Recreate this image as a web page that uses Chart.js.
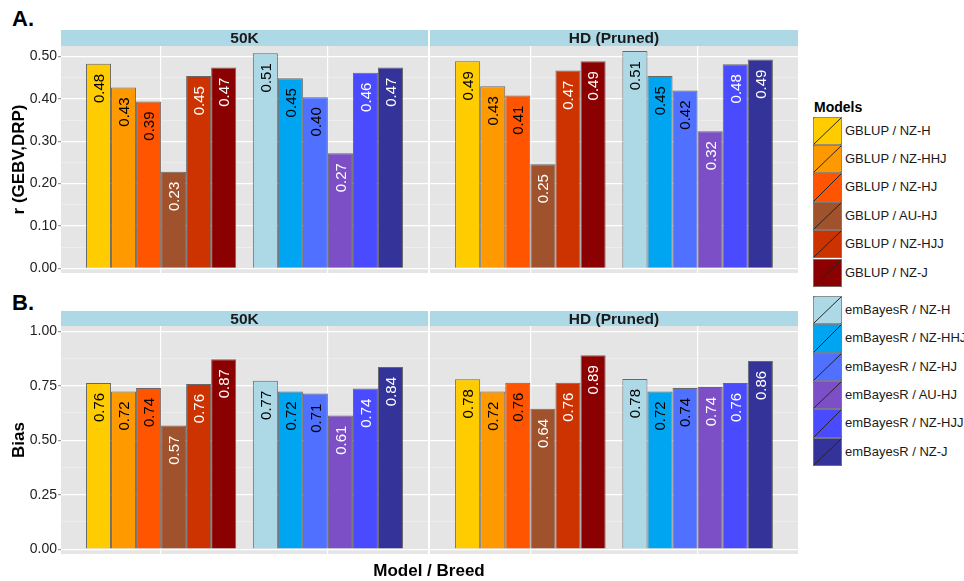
<!DOCTYPE html>
<html>
<head>
<meta charset="utf-8">
<script src="https://cdn.jsdelivr.net/npm/chart.js@4"></script>
<style>
  body { margin: 0; background: #fff; font-family: "Liberation Sans", Arial, sans-serif; }
  #page { position: relative; width: 964px; height: 581px; overflow: hidden; }
  canvas, .strip, .txt, .key, .keylab { position: absolute; }
  .strip { background: #ADD8E6; color: #1a1a1a; font-weight: bold; font-size: 15.5px; text-align: center; }
  .txt { color: #000; font-weight: bold; white-space: nowrap; }
  .key { box-sizing: border-box; border: 1px solid rgba(128,128,128,0.8); }
  .keylab { font-size: 13px; color: #1a1a1a; white-space: nowrap; }
</style>
</head>
<body>
<div id="page">
  <div class="txt" style="left:12px;top:8px;font-size:22px;line-height:22px;">A.</div>
  <div class="txt" style="left:12px;top:292px;font-size:22px;line-height:22px;">B.</div>

  <canvas id="rLeft"></canvas>
  <canvas id="rRight"></canvas>
  <canvas id="bLeft"></canvas>
  <canvas id="bRight"></canvas>

  <div class="strip" style="left:61px;top:30px;width:367px;height:16px;line-height:16px;">50K</div>
  <div class="strip" style="left:430px;top:30px;width:368px;height:16px;line-height:16px;">HD (Pruned)</div>
  <div class="strip" style="left:61px;top:311px;width:367px;height:15px;line-height:15px;">50K</div>
  <div class="strip" style="left:430px;top:311px;width:368px;height:15px;line-height:15px;">HD (Pruned)</div>

  <div class="txt" style="left:0;width:858px;text-align:center;top:562px;font-size:17px;line-height:17px;">Model / Breed</div>
  <div class="txt" style="left:814px;top:100px;font-size:14px;line-height:14px;">Models</div>
  <div id="legend"></div>
</div>

<script>
// categories
const models = ["GBLUP", "emBayesR"];
const breeds = ["NZ-H", "NZ-HHJ", "NZ-HJ", "AU-HJ", "NZ-HJJ", "NZ-J"];

// colours per breed, one list per model
const gblupColors = ["#FFCC00", "#FF9900", "#FF5500", "#A0522D", "#CC3300", "#8B0000"];
const embayesColors = ["#ADD8E6", "#00A5F2", "#5070FF", "#7D4FC6", "#4A4AFF", "#333399"];
const labelColors = ["#000", "#000", "#000", "#fff", "#fff", "#fff"];

// A. r (GEBV,DRP)
const r50K_GBLUP = [0.483, 0.427, 0.394, 0.228, 0.454, 0.474];
const r50K_emBayesR = [0.508, 0.449, 0.404, 0.272, 0.462, 0.474];
const rHD_GBLUP = [0.489, 0.430, 0.408, 0.246, 0.467, 0.489];
const rHD_emBayesR = [0.513, 0.454, 0.420, 0.324, 0.482, 0.493];

// B. Bias
const bias50K_GBLUP = [0.763, 0.724, 0.740, 0.567, 0.758, 0.872];
const bias50K_emBayesR = [0.773, 0.724, 0.714, 0.613, 0.737, 0.836];
const biasHD_GBLUP = [0.780, 0.723, 0.764, 0.644, 0.764, 0.890];
const biasHD_emBayesR = [0.781, 0.724, 0.740, 0.744, 0.763, 0.864];

// tick labels
const rTicks = [0, 0.1, 0.2, 0.3, 0.4, 0.5];
const biasTicks = [0, 0.25, 0.5, 0.75, 1.0];

const FONT = '"Liberation Sans", Arial, sans-serif';

// major ticks plus the minor lines half way between them
function gridTicks(ticks) {
  let out = [];
  ticks.forEach((t, i) => {
    out.push({ value: t, major: true });
    if (i < ticks.length - 1) out.push({ value: (t + ticks[i + 1]) / 2, major: false });
  });
  return out;
}

const panelBg = {
  id: "panelBg",
  beforeDraw(chart) {
    const a = chart.chartArea;
    chart.ctx.save();
    chart.ctx.fillStyle = "#E5E5E5";
    chart.ctx.fillRect(a.left, a.top, a.right - a.left, a.bottom - a.top);
    chart.ctx.restore();
  },
};

const barLabels = {
  id: "barLabels",
  afterDatasetsDraw(chart) {
    const ctx = chart.ctx;
    chart.data.datasets.forEach((ds, i) => {
      chart.getDatasetMeta(i).data.forEach((bar, j) => {
        ctx.save();
        ctx.translate(bar.x, bar.y + 10);
        ctx.rotate(-Math.PI / 2);
        ctx.font = "15px " + FONT;
        ctx.textAlign = "right";
        ctx.textBaseline = "alphabetic";
        ctx.fillStyle = labelColors[i];
        ctx.fillText(ds.data[j].y.toFixed(2), 0, 5.4);
        ctx.restore();
      });
    });
  },
};

function drawPanel(id, box, gblup, embayes, ticks, yMin, yMax, yTitle) {
  const showAxis = yTitle !== null;
  const canvas = document.getElementById(id);
  const pad = 12;
  canvas.width = box.w;
  canvas.height = box.bottom - box.top + 2 * pad;
  canvas.style.left = box.left + "px";
  canvas.style.top = box.top - pad + "px";

  const datasets = breeds.map((b, i) => ({
    label: b,
    data: [
      { x: 1, y: gblup[i] },
      { x: 2, y: embayes[i] },
    ],
    backgroundColor: [gblupColors[i], embayesColors[i]],
    borderColor: "rgba(0,0,0,0.55)",
    borderWidth: 1,
    categoryPercentage: 0.9,
    barPercentage: 1,
  }));

  new Chart(canvas.getContext("2d"), {
    type: "bar",
    data: { datasets: datasets },
    options: {
      responsive: false,
      animation: false,
      devicePixelRatio: 1,
      layout: { padding: { top: pad, bottom: pad, left: 0, right: 0 } },
      plugins: { legend: { display: false }, tooltip: { enabled: false } },
      scales: {
        x: {
          type: "linear",
          min: 0.4,
          max: 2.6,
          offset: false,
          afterBuildTicks: (s) => {
            s.ticks = [{ value: 1 }, { value: 2 }];
          },
          afterFit: (s) => {
            s.height = 0;
          },
          ticks: { display: false },
          grid: { color: "#fff", lineWidth: 1.2, drawTicks: false, offset: false },
          border: { display: false },
        },
        y: {
          min: yMin,
          max: yMax,
          afterBuildTicks: (s) => {
            s.ticks = gridTicks(ticks);
          },
          afterFit: (s) => {
            s.width = showAxis ? 61 : 0;
            s.paddingTop = 0;
            s.paddingBottom = 0;
          },
          ticks: {
            display: showAxis,
            padding: 1,
            color: "#222",
            font: { family: FONT, size: 14 },
            callback: (v, i, all) => (all[i].major ? v.toFixed(2) : ""),
          },
          grid: {
            color: (c) => (c.tick && c.tick.major ? "#fff" : "#F2F2F2"),
            lineWidth: (c) => (c.tick && c.tick.major ? 1.2 : 0.6),
            tickLength: 3,
            drawTicks: showAxis,
            tickColor: (c) => (c.tick && c.tick.major ? "#999" : "rgba(0,0,0,0)"),
          },
          border: { display: false },
          title: {
            display: showAxis,
            text: yTitle || "",
            color: "#000",
            font: { family: FONT, size: 17, weight: "bold" },
            padding: { top: 9, bottom: 0 },
          },
        },
      },
    },
    plugins: [panelBg, barLabels],
  });
}

const rowA = { top: 46, bottom: 273 };
const rowB = { top: 326, bottom: 554 };

drawPanel("rLeft", { left: 0, w: 428, ...rowA }, r50K_GBLUP, r50K_emBayesR, rTicks, -0.011, 0.525, "r (GEBV,DRP)");
drawPanel("rRight", { left: 430, w: 368, ...rowA }, rHD_GBLUP, rHD_emBayesR, rTicks, -0.011, 0.525, null);
drawPanel("bLeft", { left: 0, w: 428, ...rowB }, bias50K_GBLUP, bias50K_emBayesR, biasTicks, -0.022, 1.024, "Bias");
drawPanel("bRight", { left: 430, w: 368, ...rowB }, biasHD_GBLUP, biasHD_emBayesR, biasTicks, -0.022, 1.024, null);

// legend: two stacked blocks of keys, one per model
function drawLegend() {
  const legend = document.getElementById("legend");
  const keyH = 28.4;
  const blocks = [
    { top: 116.5, colors: gblupColors, model: models[0] },
    { top: 295.8, colors: embayesColors, model: models[1] },
  ];
  blocks.forEach((blk) => {
    breeds.forEach((b, i) => {
      const top = blk.top + i * keyH;
      const key = document.createElement("div");
      key.className = "key";
      key.style.cssText =
        "left:813px;top:" + top + "px;width:29px;height:" + keyH + "px;" +
        "background:linear-gradient(to bottom right, transparent calc(50% - 0.7px), #222 50%, transparent calc(50% + 0.7px))," +
        blk.colors[i] + ";";
      legend.appendChild(key);

      const lab = document.createElement("div");
      lab.className = "keylab";
      lab.style.cssText = "left:845px;top:" + top + "px;height:" + keyH + "px;line-height:" + keyH + "px;";
      lab.textContent = blk.model + " / " + b;
      legend.appendChild(lab);
    });
  });
}
drawLegend();
</script>
</body>
</html>
